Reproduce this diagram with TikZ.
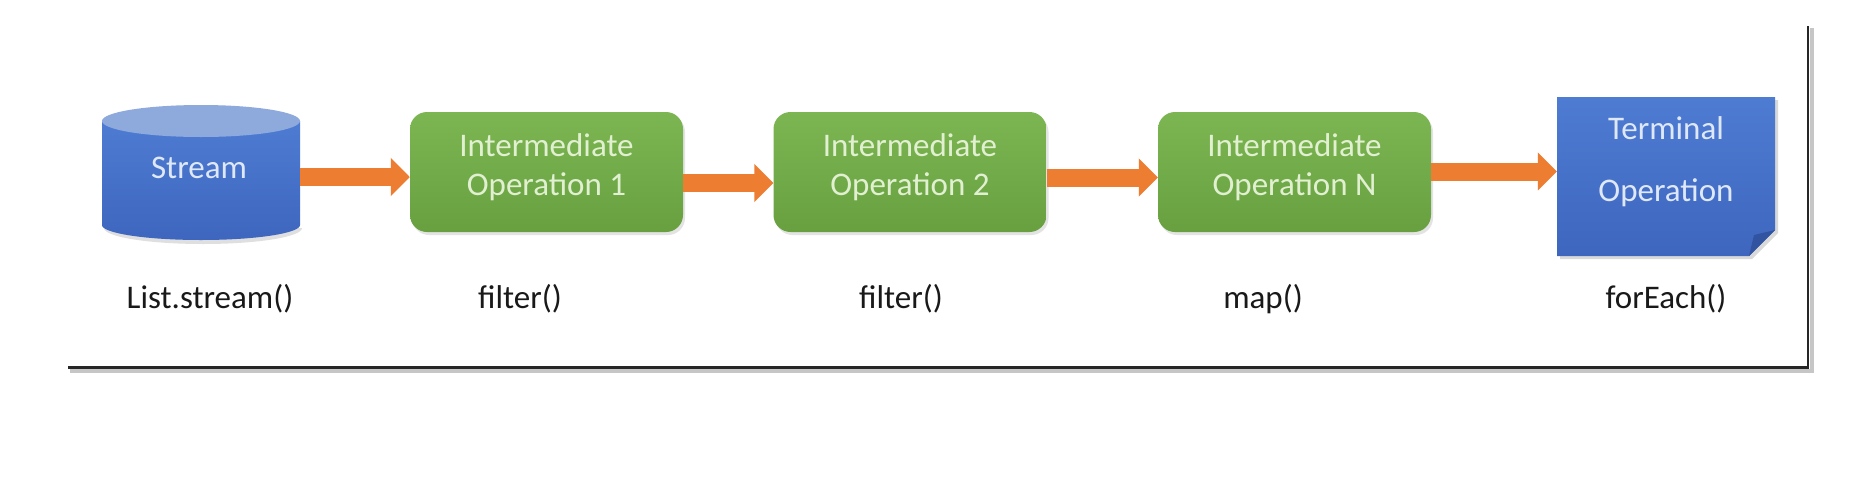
\documentclass[tikz,border=0pt]{standalone}
\usepackage{fontspec}
\setmainfont{Carlito}
\usetikzlibrary{arrows.meta,shadows}
\definecolor{gtop}{RGB}{124,182,82}
\definecolor{gbot}{RGB}{104,160,64}
\definecolor{btop}{RGB}{78,124,210}
\definecolor{bbot}{RGB}{62,102,190}
\definecolor{cyltop}{RGB}{142,169,220}
\definecolor{fold}{RGB}{50,84,160}
\definecolor{arrowc}{RGB}{237,125,49}
\definecolor{gtext}{RGB}{226,240,210}
\definecolor{btext}{RGB}{222,232,248}
\definecolor{labc}{RGB}{25,25,25}
\tikzset{
  gbox/.style={rounded corners=17pt, minimum width=273pt, minimum height=120pt,
    top color=gtop, bottom color=gbot, draw=none,
    drop shadow={opacity=0.22, shadow xshift=2pt, shadow yshift=-3pt}},
  gtxt/.style={text=gtext, align=center, font=\fontsize{33}{39}\selectfont},
  btxt/.style={text=btext, align=center, font=\fontsize{33}{39}\selectfont},
  ghost/.style={draw=none, fill=none, inner sep=0pt},
  lab/.style={text=labc, font=\fontsize{33}{39}\selectfont},
  flow/.style={line width=18pt, draw=arrowc, -{Triangle[length=19pt,width=37pt]}},
}
\begin{document}
\begin{tikzpicture}[x=1pt,y=-1pt]
\useasboundingbox (0,0) rectangle (1874,496);
\fill[white] (0,0) rectangle (1874,496);
% frame shadow
\draw[gray!45, line width=4pt] (70,371) -- (1812,371) -- (1812,28);
\draw[black!85, line width=2.6pt] (68,367.5) -- (1808,367.5) -- (1808,26);
% cylinder
\fill[gray!25] (104,228) arc[start angle=180, end angle=0, x radius=99, y radius=16] -- cycle;
\shade[top color=btop, bottom color=bbot]
  (102,121) -- (102,225) arc[start angle=180, end angle=0, x radius=99, y radius=15] -- (300,121) -- cycle;
\fill[cyltop] (201,121) ellipse[x radius=99, y radius=16];
\node[ghost, minimum width=198pt, minimum height=135pt] (stream) at (201,172) {};
\node[btxt] (streamt) at (199,168) {Stream};
% intermediate boxes
\node[gbox] (op1) at (546.5,172) {};
\node[gtxt] (op1t) at (op1) [yshift=4.5pt] {Intermediate\\Operation 1};
\node[gbox] (op2) at (910,172) {};
\node[gtxt] (op2t) at (op2) [yshift=4.5pt] {Intermediate\\Operation 2};
\node[gbox] (op3) at (1294.5,172) {};
\node[gtxt] (op3t) at (op3) [yshift=4.5pt] {Intermediate\\Operation N};
% terminal
\fill[gray!30] (1560,100) -- (1778,100) -- (1778,233) -- (1752,259) -- (1560,259) -- cycle;
\shade[top color=btop, bottom color=bbot]
  (1557,97) -- (1775,97) -- (1775,230) -- (1749,256) -- (1557,256) -- cycle;
\fill[fold] (1775,230) -- (1749,256) -- (1754,235) -- cycle;
\node[ghost, minimum width=218pt, minimum height=159pt] (term) at (1666,176.5) {};
\node[btxt] (termt1) at (1666,128) {Terminal};
\node[btxt] (termt2) at (1666,193) {Operation};
% arrows
\draw[flow] ([yshift=-5pt]stream.east) -- ([yshift=-5pt]op1.west);
\draw[flow] ([yshift=-11pt]op1.east) -- ([yshift=-11pt]op2.west);
\draw[flow] ([yshift=-5.5pt]op2.east) -- ([yshift=-5.5pt]op3.west);
\draw[flow] ([yshift=0.5pt]op3.east) -- ([yshift=5pt]term.west);
% labels
\node[lab] (l1) at (210,299) {List.stream()};
\node[lab] (l2) at (520,299) {filter()};
\node[lab] (l3) at (901,299) {filter()};
\node[lab] (l4) at (1263,299) {map()};
\node[lab] (l5) at (1666,299) {forEach()};
\end{tikzpicture}
\end{document}
